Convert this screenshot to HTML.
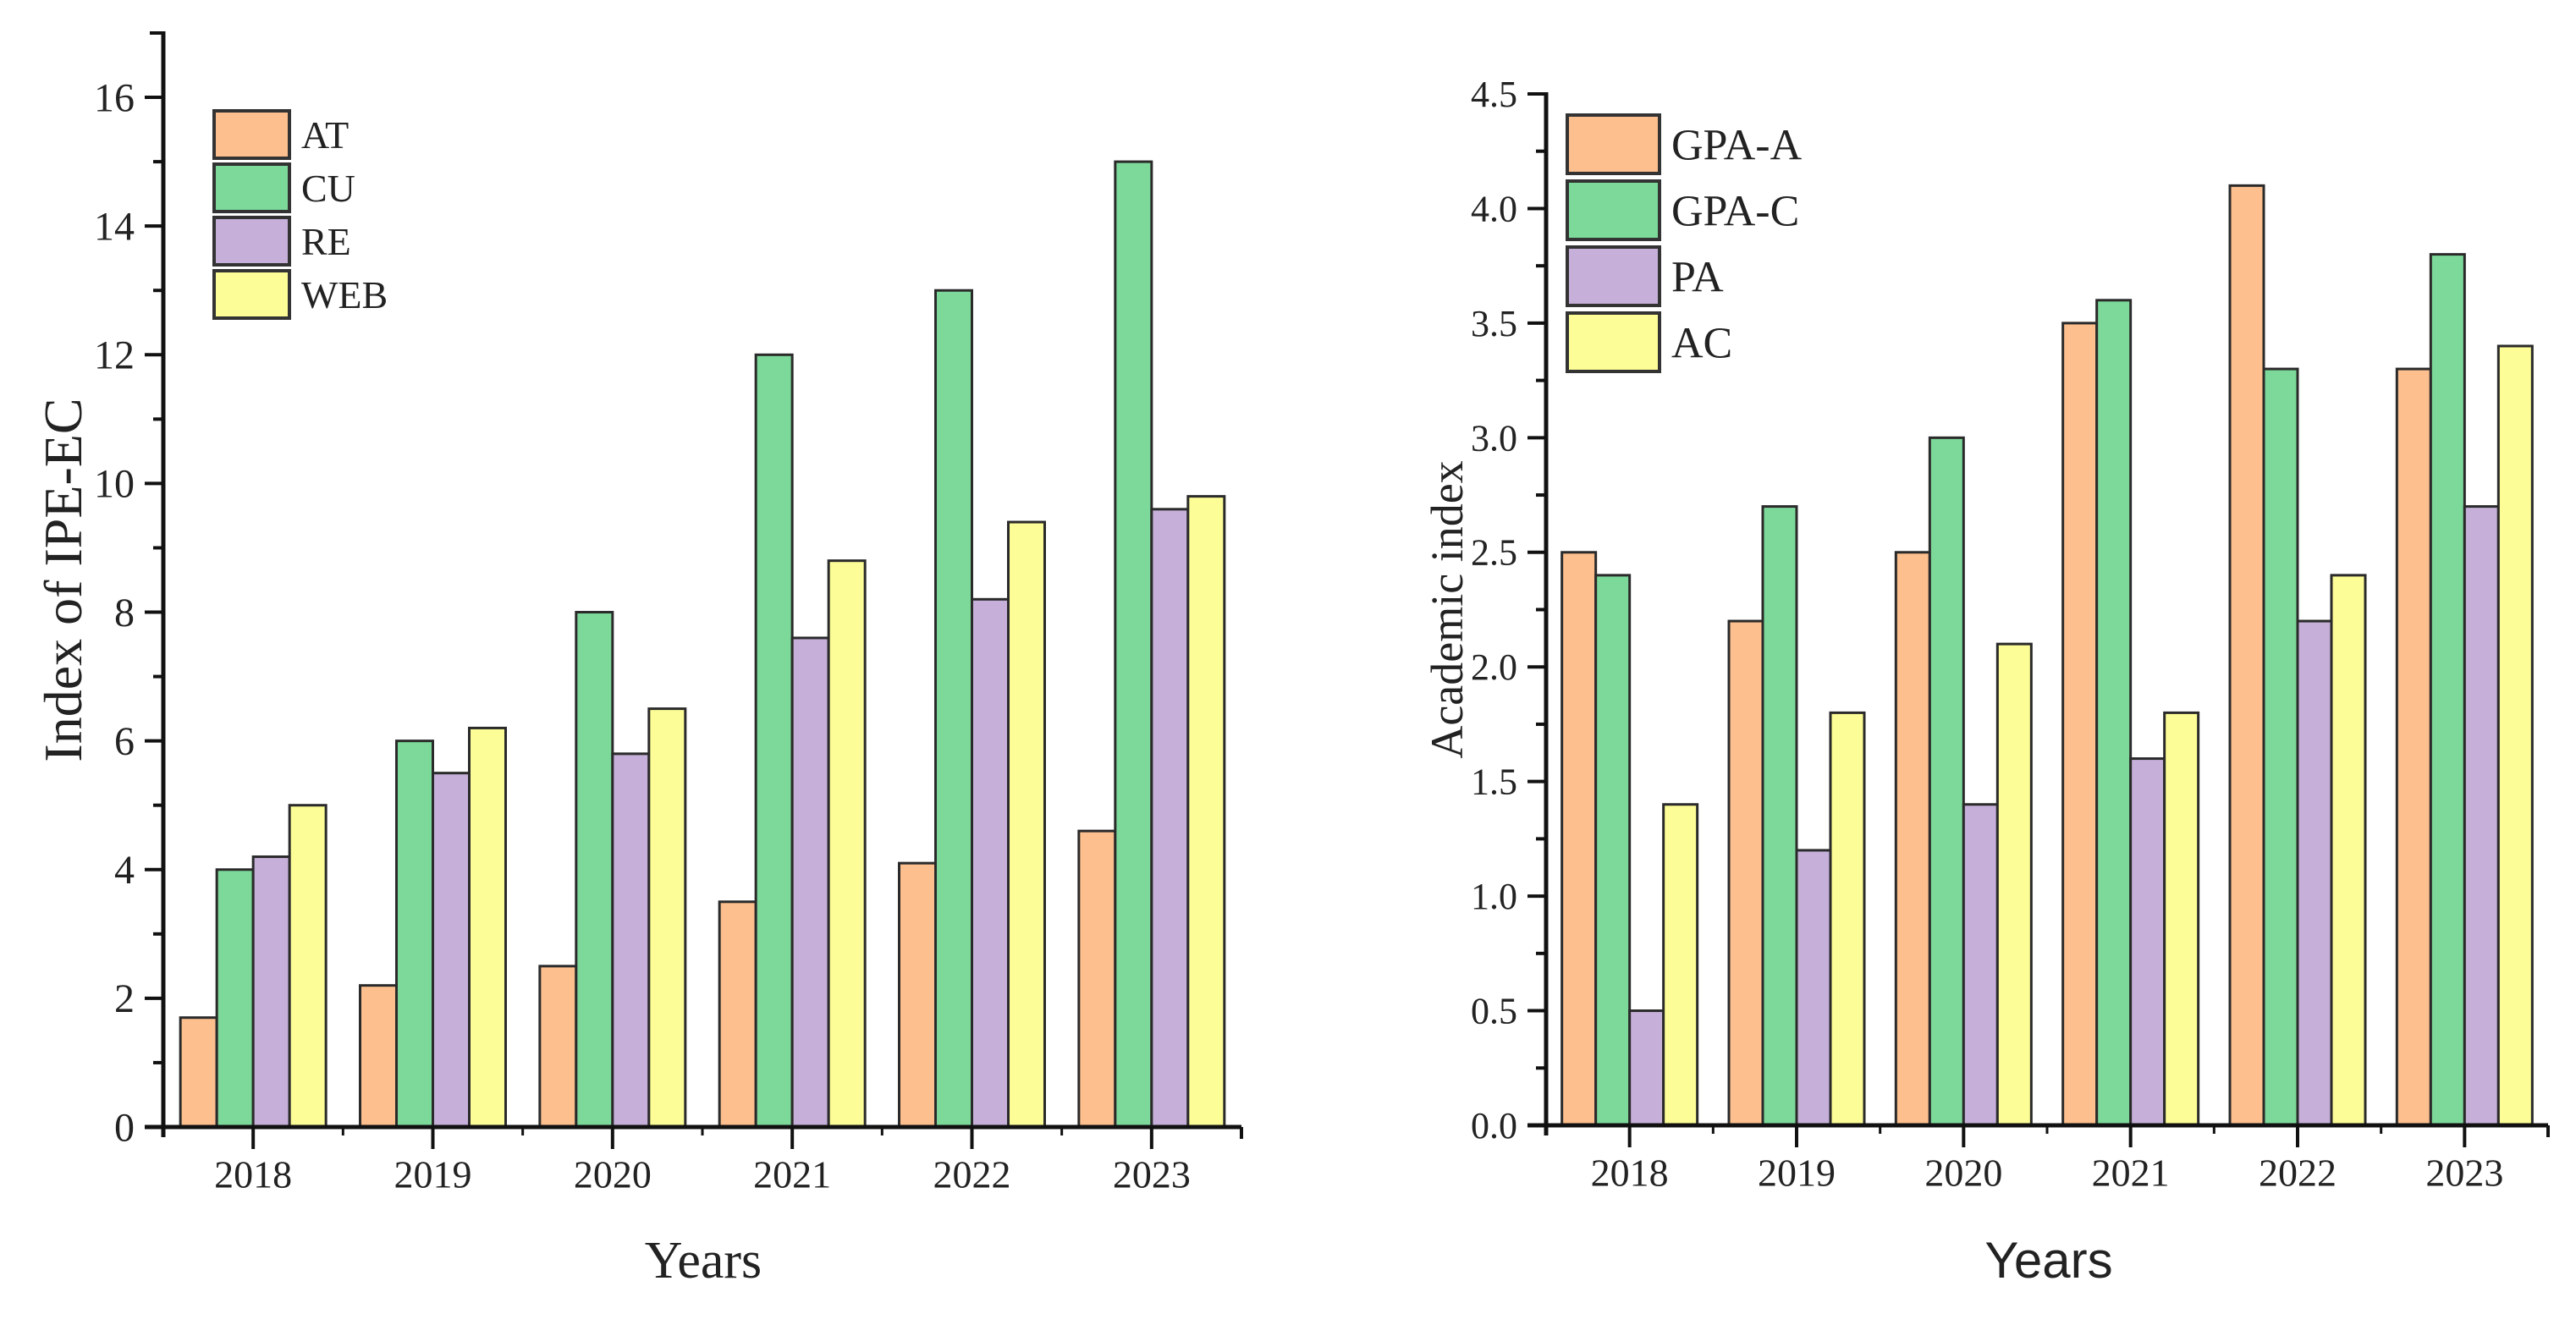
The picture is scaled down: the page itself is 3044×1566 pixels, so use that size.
<!DOCTYPE html>
<html><head><meta charset="utf-8"><style>
html,body{margin:0;padding:0;background:#fff;}
svg{display:block;font-family:"Liberation Serif",serif;}
</style></head><body>
<svg id="chart" width="3044" height="1566" viewBox="0 0 3044 1566" xmlns="http://www.w3.org/2000/svg">
<rect width="3044" height="1566" fill="#fff"/>
<g id="left"></g>
<g id="right"></g>
</svg>
<script>
const years = ["2018","2019","2020","2021","2022","2023"];
const leftSeriesNames = ["AT","CU","RE","WEB"];
const atValues = [1.7,2.2,2.5,3.5,4.1,4.6];
const cuValues = [4,6,8,12,13,15];
const reValues = [4.2,5.5,5.8,7.6,8.2,9.6];
const webValues = [5,6.2,6.5,8.8,9.4,9.8];
const leftTicks = [0,2,4,6,8,10,12,14,16];
const rightSeriesNames = ["GPA-A","GPA-C","PA","AC"];
const gpaAValues = [2.5,2.2,2.5,3.5,4.1,3.3];
const gpaCValues = [2.4,2.7,3.0,3.6,3.3,3.8];
const paValues = [0.5,1.2,1.4,1.6,2.2,2.7];
const acValues = [1.4,1.8,2.1,1.8,2.4,3.4];
const rightTicks = [0,0.5,1,1.5,2,2.5,3,3.5,4,4.5];
const rightTickLabels = ["0.0","0.5","1.0","1.5","2.0","2.5","3.0","3.5","4.0","4.5"];

const colors = ["#fdbf8e","#7dd99a","#c6b0da","#fdfd97"];
const NS = "http://www.w3.org/2000/svg";
function mk(parent, tag, attrs, text){
  const e = document.createElementNS(NS, tag);
  for (const k in attrs) e.setAttribute(k, attrs[k]);
  if (text !== undefined) e.textContent = text;
  parent.appendChild(e);
  return e;
}

function drawChart(g, cfg){
  const {x0,x1,y0,yTop,vmax,series,names,ticks,tickLabels,minorStep,barW,tickFont,catFont,legend,yTitle,yTitleX,yTitleFont,xTitleX,xTitleFont,topTick} = cfg;
  const n = years.length;
  const step = (x1-x0)/n;
  const xc = i => x0 + step*(i+0.5);
  const ys = v => y0 - (v/vmax)*(y0-yTop);
  series.forEach((vals, s) => {
    vals.forEach((v, i) => {
      const bx = xc(i) - 2*barW + s*barW;
      const r = mk(g, "rect", {x:bx, y:ys(v), width:barW, height:y0-ys(v), fill:colors[s], stroke:"#2a2a2a", "stroke-width":3});
      
      
    });
  });
  const ax = mk(g, "g", {});
  
  
  mk(ax, "line", {x1:x0, y1:yTop-2, x2:x0, y2:y0+12, stroke:"#111", "stroke-width":5});
  mk(ax, "line", {x1:x0-22, y1:y0, x2:x1, y2:y0, stroke:"#111", "stroke-width":5});
  mk(ax, "line", {x1:x1, y1:y0, x2:x1, y2:y0+14, stroke:"#111", "stroke-width":4});
  if (topTick) mk(ax, "line", {x1:x0, y1:yTop, x2:x0-20, y2:yTop, stroke:"#111", "stroke-width":4});
  else mk(ax, "line", {x1:x0, y1:yTop, x2:x0-16, y2:yTop, stroke:"#111", "stroke-width":4});
  for (let v = minorStep; v < vmax; v += minorStep*2) {
    mk(ax, "line", {x1:x0, y1:ys(v), x2:x0-12, y2:ys(v), stroke:"#111", "stroke-width":4});
  }
  ticks.forEach((t, i) => {
    mk(ax, "line", {x1:x0, y1:ys(t), x2:x0-22, y2:ys(t), stroke:"#111", "stroke-width":4});
    const tl = mk(g, "text", {x:x0-34, y:ys(t)+tickFont*0.34, "text-anchor":"end", "font-size":tickFont, fill:"#222"}, tickLabels[i]);
    
    
  });
  years.forEach((yr, i) => {
    mk(ax, "line", {x1:xc(i), y1:y0, x2:xc(i), y2:y0+26, stroke:"#111", "stroke-width":4});
    mk(ax, "line", {x1:x0+step*i, y1:y0, x2:x0+step*i, y2:y0+10, stroke:"#111", "stroke-width":3});
    const tl = mk(g, "text", {x:xc(i), y:y0+catFont*1.55, "text-anchor":"middle", "font-size":catFont, fill:"#222"}, yr);
    
    
  });
  const xt = mk(g, "text", {x:xTitleX, y:1510, "text-anchor":"middle", "font-size":xTitleFont, fill:"#222", "font-family":cfg.xTitleFamily}, "Years");
  
  
  const yt = mk(g, "text", {x:0, y:0, "text-anchor":"middle", "font-size":yTitleFont, fill:"#222", transform:`translate(${yTitleX},${(yTop+y0)/2}) rotate(-90)`}, yTitle);
  
  
  const lg = mk(g, "g", {});
  
  
  names.forEach((nm, s) => {
    const y = legend.y + s*legend.step;
    const e = mk(lg, "g", {});
    
    
    mk(e, "rect", {x:legend.x, y:y, width:legend.w, height:legend.h, fill:colors[s], stroke:"#333", "stroke-width":4});
    mk(e, "text", {x:legend.x+legend.w+14, y:y+legend.h/2+legend.font*0.35, "font-size":legend.font, fill:"#222"}, nm);
  });
}

drawChart(document.getElementById("left"), {
  x0:193, x1:1467, y0:1332, yTop:39, vmax:17,
  series:[atValues,cuValues,reValues,webValues], names:leftSeriesNames,
  ticks:leftTicks, tickLabels:leftTicks.map(String), minorStep:1, barW:43,
  tickFont:48, catFont:46,
  legend:{x:253, y:131, w:89, h:56, step:63, font:46},
  yTitle:"Index of IPE-EC", yTitleX:96, yTitleFont:64,
  xTitleX:831, xTitleFont:62, xTitleFamily:"Liberation Serif, serif", topTick:false
});
drawChart(document.getElementById("right"), {
  x0:1827, x1:3011, y0:1330, yTop:111, vmax:4.5,
  series:[gpaAValues,gpaCValues,paValues,acValues], names:rightSeriesNames,
  ticks:rightTicks, tickLabels:rightTickLabels, minorStep:0.25, barW:40,
  tickFont:44, catFont:46,
  legend:{x:1852, y:136, w:109, h:69, step:78, font:52},
  yTitle:"Academic index", yTitleX:1728, yTitleFont:54,
  xTitleX:2421, xTitleFont:60, xTitleFamily:"Liberation Sans, sans-serif", topTick:true
});
</script>
</body></html>
